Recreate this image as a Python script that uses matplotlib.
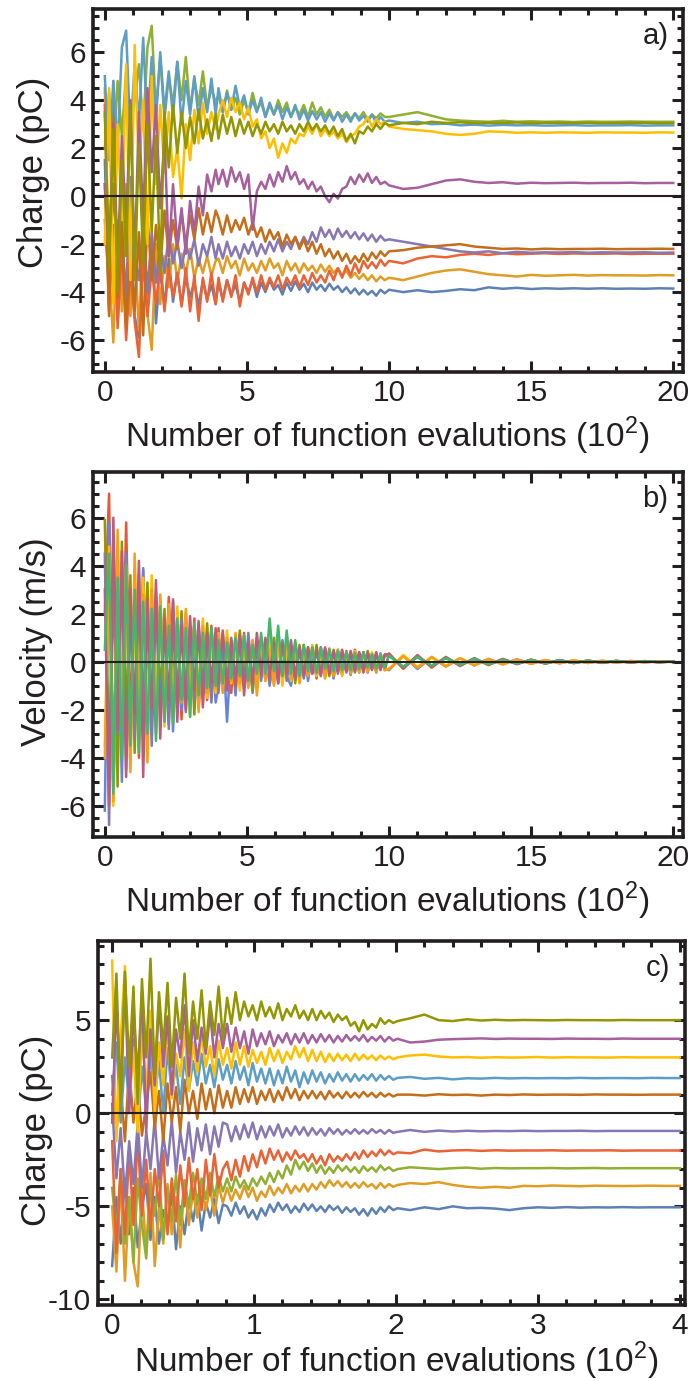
import numpy as np
import matplotlib
matplotlib.use("Agg")
import matplotlib.pyplot as plt
from matplotlib.ticker import MultipleLocator

plt.rcParams["font.family"] = ["Liberation Sans", "DejaVu Sans"]
plt.rcParams["axes.unicode_minus"] = False
plt.rcParams["mathtext.fontset"] = "custom"
plt.rcParams["mathtext.rm"] = "Liberation Sans"

INK = "#231f20"
BLUE, ORANGE, GREEN, RED, PURPLE = "#5e81b5", "#e19c24", "#8fb032", "#eb6235", "#8778b3"
BROWN, LBLUE, YELLOW, MAGENTA, OLIVE = "#c56e1a", "#5d9ec7", "#ffbf00", "#a5609d", "#929600"
V_RED, V_BLUE, V_ORANGE, V_PINK, V_GREEN = "#e95536", "#6685d9", "#f89f13", "#bc5b80", "#47b66d"

# sample positions in units of 10^2 evaluations, denser where the traces are noisy
x_long = np.concatenate([np.linspace(0, 3.9, 27), np.linspace(4.0, 9.85, 40), np.linspace(10, 20, 21)])
x_short = np.concatenate([np.linspace(0, 0.78, 27), np.linspace(0.81, 2.01, 41), np.linspace(2.1, 4.0, 20)])

# ---- panel a: charges (pC)
a_blue = [1.5, -4.8, -1.2, -5.2, -2.0, -4.5, -0.8, -5.0, -5.9, -2.5, -4.8, -1.8, -5.3, -3.0, -4.6, -2.6, -4.4, -3.2, -4.5, -3.4, -4.2, -3.6, -4.6, -3.5, -4.3, -3.7, -4.5,
          -3.6, -4.3, -3.5, -4.1, -3.7, -4.4, -3.6, -4.0, -3.5, -4.2,
          -3.6, -4.0, -3.5, -3.9, -3.7, -4.1, -3.6, -3.95, -3.55, -3.9,
          -3.65, -4.0, -3.6, -3.9, -3.7, -3.95, -3.65, -3.9, -3.75, -4.0,
          -3.8, -4.05, -3.85, -4.1, -3.9, -4.1, -3.95, -4.15, -3.9, -4.05,
          -3.9, -4.0, -3.92, -4.0, -3.95, -3.88, -3.92, -3.8, -3.86, -3.82, -3.87, -3.84, -3.86, -3.84, -3.86, -3.84, -3.86, -3.85, -3.86, -3.84, -3.85]
a_orange = [4.5, -3.0, -6.1, -1.0, -4.8, 0.5, -5.0, -2.2, -5.6, -1.5, -4.9, -6.4, -2.0, -4.5, -2.5, -3.8, -2.0, -3.6, -2.4, -3.3, -2.2, -3.4, -2.6, -3.2, -2.5, -3.3, -2.7,
            -2.6, -3.2, -2.5, -3.0, -2.7, -3.3, -2.6, -3.1, -2.8, -3.2,
            -2.7, -3.1, -2.6, -3.0, -2.8, -3.3, -2.7, -3.1, -2.8, -3.2,
            -2.8, -3.1, -2.9, -3.2, -2.85, -3.15, -2.9, -3.2, -3.0, -3.3,
            -3.1, -3.4, -3.2, -3.45, -3.25, -3.5, -3.3, -3.55, -3.35, -3.5,
            -3.4, -3.5, -3.35, -3.2, -3.1, -3.05, -3.15, -3.25, -3.3, -3.35, -3.28, -3.32, -3.3, -3.28, -3.31, -3.29, -3.3, -3.3, -3.31, -3.29, -3.3]
a_green = [2.0, 4.3, 1.5, 4.8, 2.5, 5.2, 3.0, 4.0, 5.5, 2.8, 6.2, 7.1, 3.5, 5.8, 3.2, 5.0, 3.8, 5.6, 4.0, 5.8, 3.6, 4.9, 3.8, 5.2, 3.7, 4.5, 3.9,
           4.2, 3.5, 4.4, 3.6, 4.1, 3.4, 4.0, 3.5, 4.3, 3.6,
           3.9, 3.3, 3.8, 3.4, 4.0, 3.5, 3.9, 3.3, 3.7, 3.4,
           3.8, 3.3, 3.9, 3.4, 3.7, 3.3, 3.6, 3.2, 3.5, 3.3,
           3.5, 3.2, 3.45, 3.25, 3.5, 3.2, 3.4, 3.25, 3.45, 3.3,
           3.3, 3.4, 3.5, 3.35, 3.2, 3.15, 3.12, 3.1, 3.14, 3.1, 3.12, 3.1, 3.11, 3.09, 3.11, 3.1, 3.1, 3.11, 3.1, 3.1, 3.1]
a_red = [3.8, -4.5, 4.2, -5.5, -2.0, -6.0, -3.0, -5.2, -6.7, -2.5, -5.0, -3.0, -4.5, -2.8, -4.8, -3.0, -4.2, -3.2, -4.6, -3.0, -4.8, -3.3, -5.2, -3.4, -4.4, -3.2, -4.5,
         -3.4, -4.4, -3.5, -4.2, -3.3, -4.6, -3.6, -4.1, -3.4, -4.0,
         -3.3, -3.9, -3.4, -3.8, -3.3, -3.9, -3.4, -3.7, -3.3, -3.8,
         -3.3, -3.7, -3.2, -3.6, -3.3, -3.6, -3.1, -3.5, -3.0, -3.4,
         -2.9, -3.3, -2.8, -3.2, -2.7, -3.0, -2.75, -3.0, -2.65, -2.9,
         -2.7, -2.8, -2.6, -2.5, -2.55, -2.45, -2.4, -2.45, -2.38, -2.42, -2.4, -2.38, -2.41, -2.39, -2.4, -2.4, -2.39, -2.41, -2.4, -2.4, -2.4]
a_purple = [-1.0, -3.8, 0.5, -3.0, -1.5, -4.2, 0.8, -2.5, -3.5, -1.0, -4.0, -1.5, -3.6, -2.0, -3.2, -1.6, -2.8, -1.9, -3.0, -2.0, -2.6, -1.8, -2.9, -2.0, -2.5, -1.7, -2.6,
            -2.0, -2.6, -1.9, -2.5, -2.1, -2.6, -2.0, -2.4, -1.9, -2.5,
            -2.0, -2.4, -1.9, -2.3, -1.8, -2.3, -1.9, -2.2, -1.7, -2.1,
            -1.7, -2.0, -1.5, -1.9, -1.3, -1.7, -1.4, -1.8, -1.35, -1.7,
            -1.45, -1.75, -1.5, -1.8, -1.55, -1.85, -1.6, -1.9, -1.65, -1.85,
            -1.8, -1.9, -2.0, -2.1, -2.2, -2.3, -2.35, -2.3, -2.38, -2.32, -2.36, -2.34, -2.35, -2.33, -2.36, -2.34, -2.35, -2.35, -2.34, -2.36, -2.35]
a_brown = [0.5, -5.0, 4.8, -4.2, -1.0, -5.5, -2.0, -4.8, -1.5, -5.8, -0.8, -3.5, -1.2, -3.0, -0.6, -2.5, -1.0, -2.2, -0.7, -2.0, -0.8, -1.8, -0.5, -1.6, -0.7, -1.5, -0.6,
           -0.9, -1.6, -0.8, -1.5, -1.0, -1.4, -0.9, -1.6, -1.1, -1.7,
           -1.3, -1.9, -1.4, -1.8, -1.5, -2.1, -1.6, -2.0, -1.7, -2.2,
           -1.8, -2.3, -1.9, -2.4, -2.0, -2.5, -2.2, -2.6, -2.3, -2.7,
           -2.4, -2.8, -2.5, -2.75, -2.4, -2.7, -2.35, -2.6, -2.3, -2.5,
           -2.3, -2.25, -2.15, -2.1, -2.05, -2.0, -2.1, -2.15, -2.2, -2.18, -2.22, -2.19, -2.21, -2.2, -2.2, -2.19, -2.21, -2.2, -2.2, -2.19, -2.2]
a_lblue = [5.0, 1.5, 4.8, 2.0, 6.2, 6.9, 2.5, 5.5, 3.0, 6.6, 2.8, 5.8, 3.2, 6.0, 3.5, 5.2, 3.3, 5.6, 3.0, 4.8, 3.4, 5.0, 3.2, 4.5, 3.5, 4.9, 3.4,
           4.5, 3.5, 4.3, 3.6, 4.6, 3.7, 4.2, 3.4, 4.0, 3.5,
           4.1, 3.3, 3.9, 3.4, 3.8, 3.2, 3.7, 3.3, 3.8, 3.2,
           3.6, 3.15, 3.55, 3.2, 3.5, 3.1, 3.45, 3.15, 3.5, 3.1,
           3.4, 3.1, 3.45, 3.15, 3.35, 3.1, 3.4, 3.05, 3.3, 3.1,
           3.15, 3.05, 3.1, 3.0, 3.02, 2.95, 2.98, 2.94, 2.97, 2.95, 2.96, 2.94, 2.95, 2.96, 2.94, 2.95, 2.95, 2.96, 2.94, 2.95, 2.95]
a_yellow = [-2.0, 4.5, -4.5, 3.0, -1.0, 5.5, -3.5, 6.3, 1.0, 4.0, -2.0, 5.0, 0.5, 3.8, 1.0, 3.5, 0.8, 2.0, -0.1, 3.0, 1.5, 3.6, 2.2, 3.9, 2.6, 3.5, 2.8,
            3.4, 4.0, 3.3, 4.1, 3.5, 3.9, 3.2, 3.7, 2.9, 3.2,
            2.4, 2.7, 2.0, 2.4, 1.6, 2.2, 1.8, 2.4, 2.2, 2.6,
            2.5, 2.9, 2.6, 3.0, 2.5, 2.8, 2.5, 2.7, 2.4, 2.6,
            2.25, 2.5, 2.6, 2.9, 3.0, 3.3, 2.9, 3.2, 3.0, 3.1,
            2.9, 2.8, 2.75, 2.7, 2.6, 2.55, 2.6, 2.7, 2.68, 2.64, 2.66, 2.64, 2.66, 2.65, 2.64, 2.66, 2.65, 2.65, 2.64, 2.66, 2.65]
a_magenta = [0.5, -2.5, 3.0, -3.0, 2.5, -1.5, 4.0, -2.8, 3.5, -1.0, 4.5, 1.0, 3.8, -0.5, 2.5, -2.5, 0.5, -2.0, -0.5, -2.4, -0.2, -1.5, 0.4, -0.8, 0.9, 0.2, 1.1,
             0.5, 1.1, 0.4, 1.2, 0.6, 1.0, 0.3, 0.9, -1.4, 0.2,
             0.6, 0.3, 0.9, 0.4, 1.0, 0.6, 1.25, 0.7, 1.0, 0.5,
             0.7, 0.3, 0.6, 0.2, 0.4, 0.0, -0.25, 0.1, -0.1, 0.3,
             0.4, 0.8, 0.5, 0.9, 0.6, 0.95, 0.55, 0.8, 0.5, 0.6,
             0.45, 0.3, 0.35, 0.5, 0.65, 0.7, 0.6, 0.55, 0.58, 0.52, 0.56, 0.54, 0.55, 0.56, 0.54, 0.55, 0.55, 0.56, 0.54, 0.55, 0.55]
a_olive = [3.5, -3.0, 2.8, -4.0, 1.5, -2.5, 3.8, -3.5, 2.2, -2.8, 3.0, -1.5, 2.5, -3.2, 3.5, 1.2, 3.8, 1.8, 3.5, 2.0, 3.3, 2.2, 3.6, 2.4, 3.2, 2.3, 3.4,
           2.4, 3.4, 2.6, 3.3, 2.5, 3.2, 2.6, 3.1, 2.5, 3.0,
           2.6, 3.1, 2.7, 3.0, 2.6, 3.1, 2.7, 2.95, 2.6, 3.0,
           2.7, 3.1, 2.75, 3.0, 2.7, 2.95, 2.6, 2.9, 2.5, 2.8,
           2.3, 2.6, 2.2, 2.7, 2.6, 2.9, 2.7, 3.0, 2.8, 3.05,
           2.95, 3.05, 3.0, 3.1, 3.05, 3.08, 3.04, 3.06, 3.05, 3.07, 3.04, 3.06, 3.05, 3.05, 3.06, 3.04, 3.05, 3.05, 3.06, 3.04, 3.05]

# ---- panel b: velocities (m/s)
b_red = [2.0, 7.0, -5.5, 4.2, -3.0, 5.8, -2.5, 3.0, -4.0, 3.8, -1.5, 2.5, -3.0, 2.0, -2.2, 2.7, -1.0, 1.8, -2.4, 2.0, -1.2, 1.8, -1.9, 1.1, -1.6, 1.5, -0.9,
         1.4, -1.2, 0.9, -1.3, 1.1, -0.8, 1.2, -1.0, 0.7, -1.1,
         1.0, -0.7, 0.8, -0.9, 1.1, -0.6, 0.7, -0.9, 0.8, -0.5,
         0.7, -0.6, 0.5, -0.7, 0.6, -0.5, 0.55, -0.4, 0.5, -0.55,
         0.45, -0.4, 0.5, -0.35, 0.4, -0.45, 0.35, -0.4, 0.3, -0.35,
         0.35, -0.3, 0.28, -0.25, 0.2, -0.18, 0.15, -0.14, 0.12, -0.1, 0.09, -0.08, 0.07, -0.06, 0.05, -0.05, 0.04, -0.03, 0.03, -0.02, 0.01]
b_blue = [-6.2, 5.8, -4.0, 2.5, -5.0, 4.5, -3.5, 2.8, -2.0, 3.9, -3.2, 1.5, -2.5, 2.6, -1.8, 2.2, -2.9, 1.4, -2.0, 1.9, -1.5, 0.8, -1.8, 1.3, -1.0, 1.2, -1.7,
          -1.0, 0.8, -2.5, 0.6, -1.4, 1.0, -1.1, 0.5, -1.3, 0.9,
          -0.8, 0.7, -1.0, 0.4, -0.9, 0.8, -0.6, -1.0, 0.5, -0.7,
          0.5, -0.8, 0.4, -0.6, 0.6, -0.5, 0.3, -0.7, 0.4, -0.5,
          0.35, -0.55, 0.3, -0.45, 0.4, -0.4, 0.3, -0.45, 0.35, -0.3,
          -0.35, 0.25, -0.3, 0.2, -0.2, 0.15, -0.15, 0.12, -0.1, 0.1, -0.08, 0.07, -0.06, 0.05, -0.05, 0.04, -0.03, 0.03, -0.02, 0.02, -0.01]
b_olive = [5.9, -4.5, 3.5, -5.2, 5.0, -2.5, 3.6, -3.8, 2.5, -1.8, 3.3, -2.6, 2.9, -1.5, 2.2, -2.6, 1.6, -1.8, 2.1, -1.3, 1.5, -2.2, 1.3, -1.1, 1.6, -1.4, 0.9,
           -1.1, 1.2, -0.9, 0.8, -1.0, 1.3, -0.6, 0.9, -1.2, 0.7,
           -0.6, 0.9, -0.8, 1.0, -0.5, 0.8, -0.7, 0.6, -0.9, 0.7,
           -0.5, 0.6, -0.45, 0.7, -0.5, 0.4, -0.6, 0.5, -0.4, 0.45,
           -0.35, 0.4, -0.45, 0.3, -0.35, 0.45, -0.3, 0.35, -0.3, 0.3,
           0.3, -0.25, 0.22, -0.2, 0.18, -0.15, 0.12, -0.12, 0.1, -0.08, 0.07, -0.07, 0.06, -0.05, 0.04, -0.04, 0.03, -0.03, 0.02, -0.02, 0.01]
b_yellow = [-3.5, 4.8, -6.0, 3.2, -2.0, 4.0, -4.2, 2.0, -3.0, 3.5, -2.2, 3.6, -1.8, 2.4, -2.7, 1.9, -2.0, 2.3, -1.5, 1.7, -2.3, 1.5, -1.2, 1.8, -1.5, 1.0, -1.3,
            1.2, -1.0, 1.3, -0.9, 0.7, -1.2, 1.1, -0.8, 0.9, -1.0,
            0.6, -0.8, 1.2, -0.7, 0.9, -1.0, 0.5, -0.8, 0.7, -0.6,
            0.6, -0.5, 0.7, -0.6, 0.4, -0.65, 0.5, -0.5, 0.45, -0.6,
            0.4, -0.45, 0.45, -0.35, 0.35, -0.4, 0.4, -0.3, 0.3, -0.35,
            -0.3, 0.28, -0.22, 0.2, -0.17, 0.15, -0.13, 0.1, -0.09, 0.08, -0.07, 0.06, -0.05, 0.05, -0.04, 0.03, -0.03, 0.02, -0.02, 0.02, -0.01]
b_purple = [4.5, -6.8, 5.2, -3.0, 3.8, -4.5, 2.2, -3.2, 3.6, -2.5, 2.0, -3.5, 2.4, -2.0, 1.6, -2.8, 2.5, -1.5, 1.8, -2.1, 1.2, -1.6, 1.7, -1.3, 0.9, -1.7, 1.2,
            -1.3, 0.8, -1.1, 1.0, -0.7, 0.9, -1.0, 1.2, -0.8, 0.6,
            -0.6, 0.7, -0.9, 0.5, -0.7, 0.9, -0.8, 0.6, -0.6, 0.5,
            -0.7, 0.4, -0.5, 0.5, -0.6, 0.55, -0.45, 0.4, -0.5, 0.35,
            -0.45, 0.3, -0.4, 0.4, -0.3, 0.35, -0.35, 0.3, -0.3, 0.25,
            0.25, -0.22, 0.2, -0.17, 0.15, -0.13, 0.1, -0.1, 0.08, -0.07, 0.06, -0.05, 0.05, -0.04, 0.03, -0.03, 0.02, -0.02, 0.02, -0.01, 0.01]
b_orange = [-4.0, 3.5, -5.8, 5.5, -2.5, 3.2, -4.6, 4.5, -2.0, 2.8, -4.2, 3.0, -2.5, 2.8, -1.5, 2.4, -2.2, 1.6, -1.7, 2.2, -1.4, 1.6, -2.1, 1.5, -1.3, 1.3, -1.1,
            1.1, -1.3, 1.0, -0.8, 1.2, -0.9, 0.7, -1.1, 0.9, -1.4,
            0.6, -0.8, 0.5, -1.0, 0.7, -0.6, 0.8, -0.7, 0.5, -0.9,
            0.5, -0.6, 0.6, -0.5, 0.45, -0.7, 0.4, -0.6, 0.5, -0.45,
            0.35, -0.5, 0.4, -0.45, 0.35, -0.4, 0.3, -0.45, 0.3, -0.35,
            -0.3, 0.22, -0.25, 0.18, -0.2, 0.14, -0.15, 0.11, -0.12, 0.09, -0.09, 0.07, -0.07, 0.06, -0.05, 0.04, -0.04, 0.03, -0.03, 0.02, -0.01]
b_pink = [3.0, -6.0, 6.0, -2.8, 4.6, -4.8, 3.0, -2.2, 4.2, -4.8, 2.6, -2.0, 3.4, -3.2, 1.8, -1.6, 2.6, -2.5, 1.5, -2.0, 1.9, -1.2, 1.6, -1.9, 1.2, -0.9, 1.4,
          -0.9, 1.3, -1.2, 0.9, -1.0, 1.1, -1.4, 0.8, -0.9, 1.2,
          -0.5, 1.0, -0.6, 0.8, -0.9, 0.7, -0.5, 0.9, -0.7, 0.6,
          -0.6, 0.6, -0.5, 0.5, -0.55, 0.6, -0.5, 0.45, -0.4, 0.5,
          -0.4, 0.45, -0.35, 0.4, -0.45, 0.35, -0.3, 0.4, -0.35, 0.3,
          0.3, -0.25, 0.25, -0.2, 0.18, -0.16, 0.14, -0.12, 0.1, -0.09, 0.08, -0.07, 0.06, -0.05, 0.05, -0.04, 0.03, -0.03, 0.02, -0.02, 0.01]
b_green = [0.5, 4.5, -5.5, 3.5, -4.0, 4.0, -3.5, 3.0, -3.8, 2.5, -3.0, 2.2, -3.3, 2.3, -2.5, 1.5, -2.6, 1.8, -1.6, 1.4, -2.3, 1.6, -1.4, 1.2, -1.1, 1.4, -1.0,
           0.9, -0.9, 0.8, -0.7, 1.0, -0.6, 1.1, -0.8, 0.7, -0.5,
           1.2, -0.5, 1.8, -0.4, 1.5, -0.6, 1.3, -0.5, 0.9, -0.6,
           0.7, -0.4, 0.6, -0.45, 0.55, -0.3, 0.5, -0.4, 0.45, -0.35,
           0.4, -0.35, 0.35, -0.3, 0.4, -0.25, 0.3, -0.3, 0.3, -0.25,
           0.25, -0.2, 0.2, -0.16, 0.15, -0.12, 0.12, -0.1, 0.08, -0.07, 0.07, -0.06, 0.05, -0.04, 0.04, -0.03, 0.03, -0.02, 0.02, -0.01, 0.01]

# ---- panel c: charges (pC), shorter run
c_blue = [-8.2, -4.5, -7.0, -3.5, -6.5, -4.0, -7.2, -5.0, -3.8, -6.8, -4.5, -7.0, -5.2, -6.2, -4.2, -7.3, -5.0, -6.5, -4.6, -5.8, -4.4, -6.3, -4.8, -5.6, -4.6, -5.9, -4.9,
          -5.0, -5.5, -4.8, -5.4, -5.0, -5.6, -5.2, -5.7, -5.1, -5.5,
          -4.9, -5.3, -4.8, -5.2, -4.9, -5.35, -5.0, -5.3, -4.85, -5.2,
          -4.9, -5.25, -5.0, -5.3, -4.95, -5.2, -5.0, -5.35, -5.05, -5.3,
          -5.1, -5.45, -5.15, -5.5, -5.1, -5.4, -5.05, -5.3, -5.0, -5.2, -5.1,
          -5.2, -5.05, -5.15, -5.0, -5.1, -5.08, -5.12, -5.2, -5.1, -5.05, -5.08, -5.04, -5.07, -5.05, -5.06, -5.04, -5.06, -5.05, -5.05, -5.05]
c_orange = [-5.0, -8.5, -3.5, -9.0, -4.5, -8.0, -9.3, -4.0, -7.5, -3.2, -8.2, -5.0, -7.0, -3.8, -6.5, -4.5, -7.2, -3.6, -6.0, -4.2, -5.6, -3.8, -5.2, -4.0, -5.5, -3.9, -4.8,
            -4.0, -4.7, -4.1, -4.6, -3.9, -4.5, -4.0, -4.7, -4.2, -4.5,
            -3.9, -4.4, -4.0, -4.3, -3.8, -4.3, -3.9, -4.2, -3.8, -4.2,
            -3.8, -4.1, -3.7, -4.0, -3.6, -3.9, -3.65, -3.95, -3.7, -4.0,
            -3.75, -4.0, -3.7, -3.95, -3.8, -4.05, -3.75, -4.0, -3.8, -3.95, -3.85,
            -3.75, -3.8, -3.7, -3.85, -3.95, -4.0, -3.95, -4.0, -3.9, -3.92, -3.88, -3.9, -3.92, -3.89, -3.9, -3.91, -3.9, -3.89, -3.9, -3.9]
c_green = [-4.0, -6.5, -3.0, -7.0, -4.5, -8.0, -3.5, -6.0, -7.8, -3.8, -5.5, -3.0, -6.8, -4.0, -5.8, -3.3, -6.0, -3.6, -5.0, -3.2, -4.8, -3.5, -4.6, -3.2, -4.5, -3.4, -4.2,
           -3.5, -4.2, -3.4, -4.0, -3.6, -4.1, -3.5, -3.9, -3.4, -3.8,
           -3.2, -3.7, -3.1, -3.5, -2.8, -3.3, -2.5, -3.0, -2.6, -3.1,
           -2.7, -3.2, -2.8, -3.25, -2.9, -3.2, -2.8, -3.1, -2.85, -3.15,
           -2.9, -3.2, -2.85, -3.1, -2.9, -3.15, -2.8, -3.05, -2.9, -3.1, -3.0,
           -2.9, -2.95, -3.0, -2.95, -2.92, -2.98, -2.94, -2.96, -2.95, -2.95, -2.94, -2.96, -2.95, -2.94, -2.96, -2.95, -2.95, -2.95, -2.95, -2.95]
c_red = [-1.5, -7.5, -3.0, -6.5, -2.0, -6.0, -1.2, -5.5, -2.5, -6.2, -3.0, -5.0, -2.0, -6.5, -3.5, -5.8, -2.8, -5.0, -2.4, -4.6, -3.0, -5.2, -2.5, -4.4, -2.2, -4.0, -3.0,
         -2.6, -3.6, -2.5, -3.4, -2.3, -3.1, -2.2, -2.9, -2.0, -2.7,
         -1.9, -2.5, -2.0, -2.6, -2.1, -2.5, -2.0, -2.4, -2.2, -2.6,
         -2.2, -2.7, -2.3, -2.8, -2.2, -2.6, -2.3, -2.55, -2.2, -2.5,
         -2.1, -2.45, -2.0, -2.35, -2.05, -2.3, -1.95, -2.25, -2.0, -2.2, -2.1,
         -2.15, -1.95, -2.05, -2.0, -1.98, -2.02, -1.99, -2.01, -2.0, -2.0, -1.99, -2.01, -2.0, -2.0, -1.99, -2.01, -2.0, -2.0, -2.0, -2.0]
c_purple = [0.5, -3.5, -0.8, -4.5, -1.5, -3.8, -0.5, -4.0, -1.0, -3.0, -0.3, -3.5, -1.2, -2.8, -0.4, -3.2, -1.0, -2.5, -0.5, -2.6, -0.8, -2.0, -0.6, -2.2, -0.7, -1.8, -0.5,
            -0.6, -1.5, -0.7, -1.4, -0.6, -1.3, -0.5, -1.4, -0.7, -1.3,
            -0.7, -1.2, -0.6, -1.3, -0.8, -1.2, -0.7, -1.15, -0.75, -1.2,
            -0.8, -1.15, -0.85, -1.2, -0.8, -1.1, -0.85, -1.15, -0.9, -1.1,
            -0.85, -1.1, -0.9, -1.1, -0.85, -1.05, -0.9, -1.1, -0.9, -1.05, -1.0,
            -0.9, -1.0, -0.93, -0.98, -0.94, -0.97, -0.95, -0.96, -0.94, -0.96, -0.95, -0.95, -0.94, -0.96, -0.95, -0.95, -0.95, -0.95, -0.95, -0.95]
c_brown = [2.0, -1.0, 1.5, -1.5, 2.5, -0.5, 1.8, -1.2, 0.5, 2.2, -0.8, 1.2, -1.5, 1.6, -0.5, 1.4, -1.0, 1.8, 0.0, 1.2, -0.3, 1.6, 0.2, 1.3, 0.0, 1.5, 0.3,
           1.2, 0.3, 1.4, 0.5, 1.3, 0.6, 1.4, 0.5, 1.2, 0.7,
           1.3, 0.6, 1.2, 0.7, 1.4, 0.8, 1.3, 0.7, 1.2, 0.8,
           1.2, 0.8, 1.15, 0.75, 1.2, 0.85, 1.1, 0.8, 1.15, 0.85,
           1.1, 0.85, 1.15, 0.9, 1.1, 0.85, 1.1, 0.9, 1.05, 0.9, 1.0,
           1.0, 0.95, 1.02, 0.98, 1.0, 0.95, 1.0, 0.98, 1.01, 0.99, 1.0, 1.0, 0.99, 1.01, 1.0, 1.0, 0.99, 1.0, 1.0, 1.0]
c_lblue = [1.0, 3.8, -0.5, 3.0, 0.5, 4.0, -0.8, 2.5, 0.3, 3.2, 0.8, 2.8, 0.0, 3.5, 1.0, 2.6, 0.5, 3.0, 1.2, 2.8, 1.5, 3.2, 1.6, 2.6, 1.4, 2.9, 1.8,
           2.6, 1.6, 2.8, 1.8, 2.5, 1.5, 2.7, 1.7, 2.4, 1.6,
           2.4, 1.5, 2.3, 1.6, 2.5, 1.7, 2.3, 1.4, 2.2, 1.6,
           2.3, 1.7, 2.2, 1.6, 2.1, 1.7, 2.2, 1.75, 2.1, 1.7,
           2.1, 1.75, 2.05, 1.8, 2.1, 1.75, 2.05, 1.8, 2.0, 1.8, 1.9,
           1.95, 1.85, 1.9, 1.82, 1.88, 1.86, 1.9, 1.87, 1.89, 1.88, 1.89, 1.88, 1.9, 1.88, 1.89, 1.89, 1.88, 1.9, 1.89, 1.89]
c_yellow = [8.2, -1.5, 4.0, 7.9, 0.5, 3.5, -1.0, 4.5, 1.0, 5.5, 0.0, 3.8, 1.5, 4.8, 0.8, 3.2, 2.0, 4.5, 1.2, 3.8, 2.2, 4.2, 2.5, 3.6, 2.0, 3.9, 2.6,
            3.5, 2.4, 3.8, 2.6, 3.6, 2.5, 3.4, 2.7, 3.3, 2.6,
            3.5, 2.8, 3.4, 2.7, 3.3, 2.9, 3.6, 3.0, 3.5, 2.8,
            3.4, 2.8, 3.3, 2.75, 3.2, 2.8, 3.2, 2.85, 3.15, 2.8,
            3.2, 2.85, 3.15, 2.9, 3.1, 2.85, 3.1, 2.9, 3.05, 2.9, 3.0,
            3.1, 3.15, 3.05, 3.0, 3.02, 2.98, 3.01, 2.99, 3.0, 3.02, 2.99, 3.01, 3.0, 3.0, 2.99, 3.01, 3.0, 3.0, 3.0, 3.0]
c_magenta = [-0.5, 6.0, 1.0, 7.2, 0.0, 5.5, 2.0, 6.5, -1.0, 4.5, 1.5, 6.0, 2.5, 5.2, 1.0, 4.5, 3.0, 5.8, 2.0, 5.0, 2.8, 4.6, 3.2, 5.4, 3.0, 4.8, 3.5,
             4.8, 3.3, 4.6, 3.5, 4.4, 3.2, 4.5, 3.6, 4.3, 3.7,
             4.4, 3.6, 4.2, 3.8, 4.3, 3.7, 4.25, 3.8, 4.3, 3.75,
             4.2, 3.8, 4.25, 3.85, 4.2, 3.8, 4.15, 3.85, 4.2, 3.9,
             4.15, 3.9, 4.2, 3.85, 4.1, 3.9, 4.15, 3.85, 4.1, 3.9, 4.0,
             3.8, 3.85, 3.95, 3.98, 4.0, 4.02, 3.99, 4.01, 4.0, 4.0, 3.99, 4.01, 4.0, 4.0, 3.99, 4.01, 4.0, 4.0, 4.0, 4.0]
c_olive = [3.0, 7.5, 0.2, 7.6, 2.5, 6.8, 0.5, 7.2, 3.0, 8.3, 2.0, 6.5, 3.5, 7.0, 2.5, 6.2, 4.0, 7.5, 3.2, 6.0, 4.0, 6.6, 3.5, 6.0, 4.2, 6.8, 4.0,
           6.2, 4.8, 6.5, 5.0, 6.0, 5.2, 5.8, 5.0, 6.0, 5.2,
           5.7, 5.1, 5.9, 5.0, 5.6, 5.2, 5.8, 5.1, 5.5, 5.0,
           5.6, 5.0, 5.5, 5.1, 5.4, 4.9, 5.3, 5.0, 5.2, 4.7,
           4.9, 4.4, 5.0, 4.5, 4.8, 4.6, 5.1, 4.8, 5.0, 4.85, 4.95,
           5.1, 5.3, 5.0, 4.95, 5.05, 4.98, 5.02, 4.99, 5.01, 5.0, 4.99, 5.01, 5.0, 5.0, 4.99, 5.01, 5.0, 5.0, 5.0, 5.0]

panel_a = [(a_blue, BLUE), (a_orange, ORANGE), (a_green, GREEN), (a_red, RED), (a_purple, PURPLE),
           (a_brown, BROWN), (a_lblue, LBLUE), (a_yellow, YELLOW), (a_magenta, MAGENTA), (a_olive, OLIVE)]
panel_b = [(b_red, V_RED), (b_blue, V_BLUE), (b_olive, OLIVE), (b_yellow, YELLOW), (b_purple, PURPLE),
           (b_orange, V_ORANGE), (b_pink, V_PINK), (b_green, V_GREEN)]
panel_c = [(c_blue, BLUE), (c_orange, ORANGE), (c_green, GREEN), (c_red, RED), (c_purple, PURPLE),
           (c_brown, BROWN), (c_lblue, LBLUE), (c_yellow, YELLOW), (c_magenta, MAGENTA), (c_olive, OLIVE)]

XLABEL = "Number of function evalutions (10$^{\\mathrm{2}}$)"


def draw_panel(ax, x, traces, tag, ylabel, xlim, ylim, xmaj, xmin, ymaj, ymin):
    for i, (vals, color) in enumerate(traces):
        assert len(vals) == len(x), (tag, i, len(vals))
        ax.plot(x, vals, color=color, lw=1.8)
    ax.axhline(0, color=INK, lw=1.5, zorder=5)

    ax.set_xlim(*xlim)
    ax.set_ylim(*ylim)
    ax.xaxis.set_major_locator(MultipleLocator(xmaj))
    ax.xaxis.set_minor_locator(MultipleLocator(xmin))
    ax.yaxis.set_major_locator(MultipleLocator(ymaj))
    ax.yaxis.set_minor_locator(MultipleLocator(ymin))
    ax.tick_params(which="both", direction="in", top=True, right=True,
                   colors=INK, width=2.2, labelsize=21.5)
    ax.tick_params(which="major", length=8, pad=5)
    ax.tick_params(which="minor", length=4.5)
    for s in ax.spines.values():
        s.set_linewidth(2.6)
        s.set_color(INK)

    ax.set_xlabel(XLABEL, fontsize=24, color=INK)
    ax.set_ylabel(ylabel, fontsize=25, color=INK)
    ax.text(0.975, 0.965, tag, transform=ax.transAxes, ha="right", va="top",
            fontsize=21, color=INK)


fig = plt.figure(figsize=(6.88, 13.81), dpi=100)

ax_a = fig.add_axes([0.135, 0.7306, 0.858, 0.2629])
draw_panel(ax_a, x_long, panel_a, "a)", "Charge (pC)", (-0.42, 20.35), (-7.33, 7.8), 5, 1, 2, 0.5)
ax_a.yaxis.set_label_coords(-0.073, 0.55)
ax_a.xaxis.set_label_coords(0.499, -0.118)

ax_b = fig.add_axes([0.135, 0.3939, 0.858, 0.2643])
draw_panel(ax_b, x_long, panel_b, "b)", "Velocity (m/s)", (-0.42, 20.35), (-7.3, 7.9), 5, 1, 2, 0.5)
ax_b.yaxis.set_label_coords(-0.068, 0.534)
ax_b.xaxis.set_label_coords(0.499, -0.118)

ax_c = fig.add_axes([0.1424, 0.0550, 0.853, 0.2636])
draw_panel(ax_c, x_short, panel_c, "c)", "Charge (pC)", (-0.1, 4.035), (-10.3, 9.25), 1, 0.2, 5, 1)
ax_c.yaxis.set_label_coords(-0.077, 0.481)
ax_c.xaxis.set_label_coords(0.508, -0.096)

fig.savefig("out.png", dpi=100)
